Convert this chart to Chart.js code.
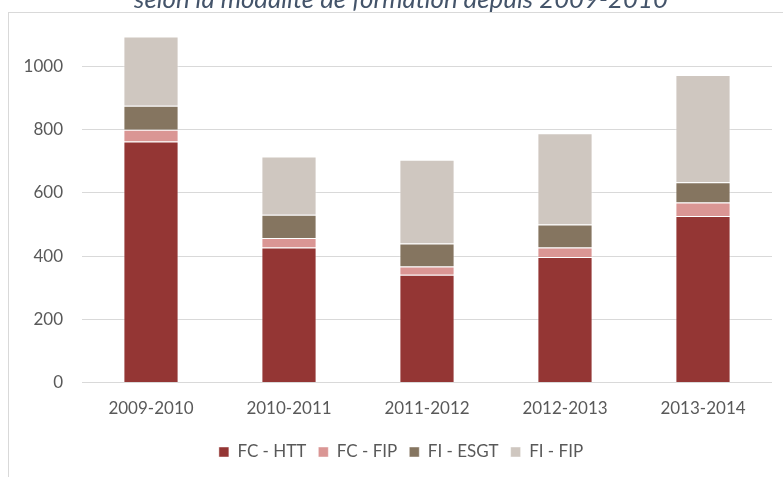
<!DOCTYPE html>
<html>
<head>
<meta charset="utf-8">
<script src="https://cdn.jsdelivr.net/npm/chart.js@4.4.1/dist/chart.umd.min.js"></script>
<style>
  html, body { margin: 0; padding: 0; background: #fff; overflow: hidden; }
  #wrap { position: absolute; left: 0; top: -24px; width: 783px; height: 501px; }
</style>
</head>
<body>
<div id="wrap"><canvas id="chart"></canvas></div>
<script>
// values
const years = ['2009-2010', '2010-2011', '2011-2012', '2012-2013', '2013-2014'];
const fcHtt = [763, 427, 341, 397, 527];
const fcFip = [37, 30, 26, 30, 43];
const fiEsgt = [76, 74, 73, 73, 64];
const fiFip = [219, 184, 265, 289, 339];
const yTicks = [0, 200, 400, 600, 800, 1000];

const seriesNames = ['FC - HTT', 'FC - FIP', 'FI - ESGT', 'FI - FIP'];
const seriesData = [fcHtt, fcFip, fiEsgt, fiFip];
const seriesColors = ['#943634', '#DA9694', '#857560', '#CFC7C0'];

// light grey frame round the plot, it runs off the right and bottom
const framePlugin = {
    id: 'frame',
    beforeDraw(chart) {
        const ctx = chart.ctx;
        ctx.save();
        ctx.strokeStyle = '#D9D9D9';
        ctx.lineWidth = 1;
        ctx.strokeRect(8.5, 36.5, 900, 600);
        ctx.restore();
    }
};

const font = { family: 'Lato, "Open Sans", sans-serif', size: 17 };

new Chart(document.getElementById('chart'), {
    type: 'bar',
    data: {
        labels: years,
        datasets: seriesNames.map((name, i) => ({
            label: name,
            data: seriesData[i],
            backgroundColor: seriesColors[i],
            borderColor: 'rgba(255,255,255,0.45)',
            borderWidth: 1,
            barPercentage: 0.4,
            categoryPercentage: 1
        }))
    },
    options: {
        responsive: true,
        maintainAspectRatio: false,
        animation: false,
        layout: { padding: { left: 19, right: 0, top: 0, bottom: 6.5 } },
        plugins: {
            title: {
                display: true,
                text: 'selon la modalité de formation depuis 2009-2010',
                color: '#44546A',
                font: { family: 'Lato, "Open Sans", sans-serif', size: 25.8, style: 'italic', weight: 'normal' },
                padding: { top: 8.5, bottom: 19.5 }
            },
            legend: {
                position: 'bottom',
                labels: {
                    boxWidth: 10,
                    boxHeight: 10,
                    padding: 12,
                    color: '#595959',
                    font: font
                }
            },
            tooltip: { enabled: false }
        },
        scales: {
            x: {
                stacked: true,
                grid: { display: false, drawTicks: false },
                border: { display: false },
                ticks: { color: '#595959', font: font, padding: 16 },
                afterFit(scale) { scale.height = 49; }
            },
            y: {
                stacked: true,
                min: 0,
                max: 1100,
                grid: { color: '#D9D9D9', lineWidth: 1, drawTicks: false },
                border: { display: false },
                ticks: {
                    stepSize: 200,
                    color: '#595959',
                    font: font,
                    padding: 19,
                    callback: v => String(v)
                },
                afterBuildTicks(scale) {
                    scale.ticks = yTicks.map(v => ({ value: v }));
                },
                afterFit(scale) { scale.width = 63; }
            },
            // empty strip on the right so the grid stops short of the edge
            yRight: {
                position: 'right',
                grid: { display: false, drawTicks: false },
                border: { display: false },
                ticks: { display: false },
                afterFit(scale) { scale.width = 11; }
            }
        }
    },
    plugins: [framePlugin]
});
</script>
</body>
</html>
